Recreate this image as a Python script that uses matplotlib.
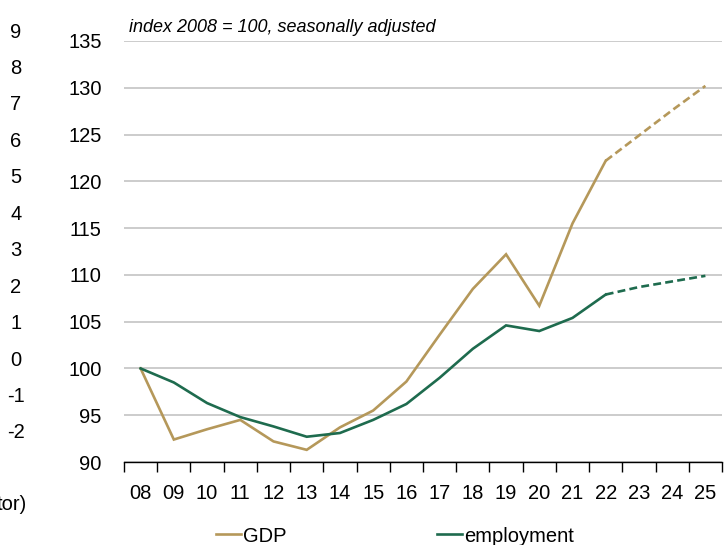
import matplotlib.pyplot as plt
from matplotlib.lines import Line2D

plt.rcParams['font.family'] = ['Liberation Sans', 'DejaVu Sans']

years = ['08', '09', '10', '11', '12', '13', '14', '15', '16', '17', '18', '19', '20', '21', '22', '23', '24', '25']
gdp = [100, 92.4, 93.5, 94.5, 92.2, 91.3, 93.7, 95.5, 98.6, 103.6, 108.5, 112.2, 106.7, 115.5, 122.2, 124.9, 127.6, 130.2]
employment = [100, 98.5, 96.3, 94.8, 93.8, 92.7, 93.1, 94.5, 96.2, 99.0, 102.1, 104.6, 104.0, 105.4, 107.9, 108.7, 109.3, 109.9]
forecast_start = 14  # index of '22'

# leftover labels from the neighbouring chart
side_labels = ['9', '8', '7', '6', '5', '4', '3', '2', '1', '0', '-1', '-2']

gdp_color = '#b5985a'
emp_color = '#1e6b4e'
fsize = 14.5

fig = plt.figure(figsize=(7.26, 5.45), dpi=100)
ax = fig.add_axes([124 / 726, 1 - 462 / 545, 598 / 726, 421 / 545])

x = list(range(len(years)))
fs = forecast_start
ax.plot(x[:fs + 1], gdp[:fs + 1], color=gdp_color, lw=1.9, solid_joinstyle='miter')
ax.plot(x[fs:], gdp[fs:], color=gdp_color, lw=1.9, ls=(0, (3, 1.6)))
ax.plot(x[:fs + 1], employment[:fs + 1], color=emp_color, lw=1.9, solid_joinstyle='miter')
ax.plot(x[fs:], employment[fs:], color=emp_color, lw=1.9, ls=(0, (3, 1.6)))

ax.set_xlim(-0.5, len(years) - 0.5)
ax.set_ylim(90, 135)
ax.set_yticks(range(90, 136, 5))
ax.set_xticks(x)
ax.set_xticklabels(years)
ax.set_xticks([i - 0.5 for i in range(len(years) + 1)], minor=True)
ax.tick_params(axis='x', which='major', length=0, labelsize=fsize, pad=16)
ax.tick_params(axis='x', which='minor', length=7, width=1, color='black')
ax.tick_params(axis='y', length=0, labelsize=fsize, pad=16)
ax.grid(axis='y', color='#c8c8c8', lw=1.3)
ax.set_axisbelow(True)
for s in ['top', 'right', 'left']:
    ax.spines[s].set_visible(False)
ax.spines['bottom'].set_color('black')
ax.spines['bottom'].set_linewidth(1)

ax.text(0.008, 1.033, 'index 2008 = 100, seasonally adjusted', transform=ax.transAxes,
        fontsize=13, style='italic', va='center', ha='left')

# left-hand cropped axis labels
for i, lab in enumerate(side_labels):
    fig.text(16 / 726, 1 - (32 + i * 36.45) / 545, lab, fontsize=fsize, ha='center', va='center')
fig.text(27 / 726, 1 - 505 / 545, 'tor)', fontsize=fsize, ha='right', va='center')

handles = [Line2D([], [], color=gdp_color, lw=1.9), Line2D([], [], color=emp_color, lw=1.9)]
fig.legend(handles, ['GDP', 'employment'], loc='center left', bbox_to_anchor=(216 / 726, 1 - 536 / 545),
           ncol=2, frameon=False, fontsize=fsize, handlelength=1.25, handletextpad=0.1,
           columnspacing=7.45, borderaxespad=0, borderpad=0)

fig.savefig('out.png', dpi=100)
